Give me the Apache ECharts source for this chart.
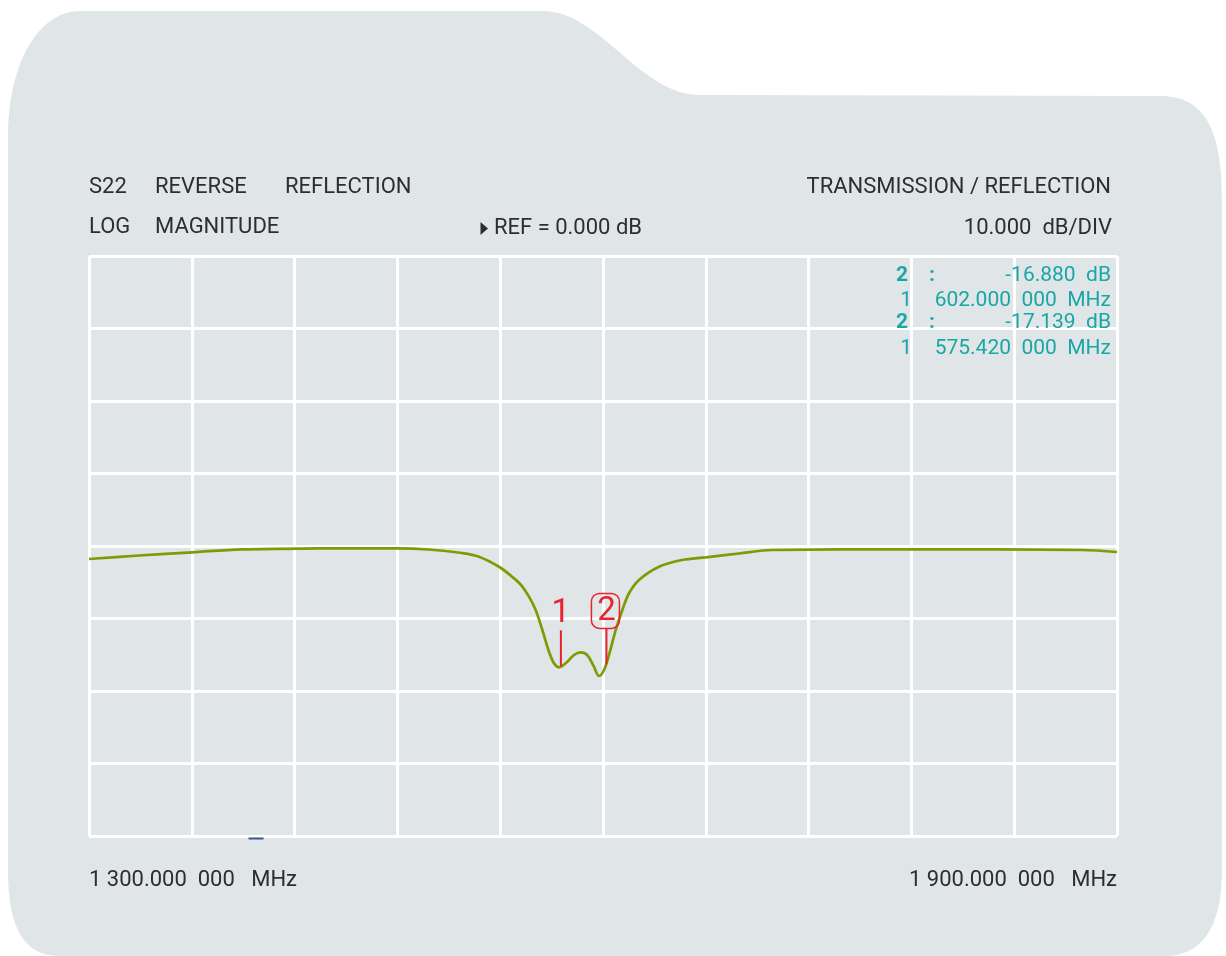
<!DOCTYPE html>
<html><head><meta charset="utf-8">
<script src="https://cdn.jsdelivr.net/npm/echarts@6/dist/echarts.min.js"></script>
<style>html,body{margin:0;padding:0;background:#fff;}#c{width:1226px;height:956px;}</style>
</head><body><div id="c"></div>
<script>
// ---- data ----
const freqMHz = [1300.0,1329.2,1360.1,1389.3,1434.2,1479.2,1498.4,1517.7,1527.6,1539.3,1546.9,1552.2,1556.8,1560.7,1564.6,1568.5,1571.4,1574.3,1578.2,1583.1,1586.9,1590.8,1594.7,1597.7,1600.6,1603.5,1607.4,1611.3,1615.2,1621.0,1632.7,1646.1,1660.1,1679.4,1698.6,1780.4,1879.6,1900.0];
const s22dB = [-1.79,-1.31,-0.87,-0.46,-0.34,-0.32,-0.48,-0.97,-1.48,-2.86,-4.23,-5.38,-6.99,-8.83,-11.59,-14.58,-16.18,-16.73,-16.18,-15.03,-14.66,-15.03,-16.65,-17.93,-17.10,-15.03,-11.59,-8.83,-6.52,-4.69,-2.86,-1.93,-1.56,-1.03,-0.55,-0.46,-0.55,-0.83];
const markerNames = ['1','2'];
const markerFreq = [1575.42, 1602.0];
const markerDb = [-17.139, -16.88];
const markerBoxed = [false, true];
const xTickLabels = ['1 300.000  000   MHz', '1 900.000  000   MHz'];
const xMin = 1300, xMax = 1900, xStep = 60;
const yMin = -40, yMax = 40, yStep = 10;
const headerLeft1 = ['S22', 'REVERSE', 'REFLECTION'];
const headerLeft2 = ['LOG', 'MAGNITUDE'];
const headerMid2 = 'REF = 0.000 dB';
const headerRight1 = 'TRANSMISSION / REFLECTION';
const headerRight2 = '10.000  dB/DIV';
const readoutIds = ['2', '2'];
const readoutDb = ['-16.880  dB', '-17.139  dB'];
const readoutFreqPrefix = ['1', '1'];
const readoutFreq = ['602.000  000  MHz', '575.420  000  MHz'];
const blueMarkFreq = 1397.5;

// ---- styles ----
const FONT = 'Roboto';
const TXT = '#2e2e2e';
const TEAL = '#19a7a5';
const RED = '#e8232d';
const BG = '#e0e5e7';

const chart = echarts.init(document.getElementById('c'), null, {renderer: 'canvas'});

const bgPath = 'M 8 140 C 8 60 40 11 80 11 L 543 11 C 600 11 640 95 700 95 L 1160 96 ' +
  'C 1205 96 1222 130 1222 200 L 1222 870 C 1222 930 1200 956 1165 956 L 60 956 ' +
  'C 25 956 8 930 8 870 Z';

function txt(text, x, y, opts) {
  return Object.assign({type: 'text', x: x, y: y, z: 5,
    style: Object.assign({text: text, fontFamily: FONT, fontSize: 22, fill: TXT, verticalAlign: 'middle', align: 'left'}, opts || {})});
}

const graphics = [
  txt(headerLeft1[0], 89, 187), txt(headerLeft1[1], 155, 187), txt(headerLeft1[2], 285, 187),
  txt(headerLeft2[0], 89, 227), txt(headerLeft2[1], 155, 227),
  {type: 'polygon', shape: {points: [[480.5, 222], [488, 228.5], [480.5, 235]]}, style: {fill: TXT}, z: 5},
  txt(headerMid2, 494, 228),
  txt(headerRight1, 1111, 187, {align: 'right'}),
  txt(headerRight2, 1112, 228, {align: 'right'})
];
const readY = [[276, 301], [323, 349]];
for (let i = 0; i < readoutDb.length; i++) {
  graphics.push(txt(readoutIds[i], 902, readY[i][0], {align: 'center', fill: TEAL, fontSize: 21, fontWeight: 'bold'}));
  graphics.push(txt(':', 932, readY[i][0], {align: 'center', fill: TEAL, fontSize: 21, fontWeight: 'bold'}));
  graphics.push(txt(readoutDb[i], 1111, readY[i][0], {align: 'right', fill: TEAL, fontSize: 21}));
  graphics.push(txt(readoutFreqPrefix[i], 912, readY[i][1], {align: 'right', fill: TEAL, fontSize: 21}));
  graphics.push(txt(readoutFreq[i], 1111, readY[i][1], {align: 'right', fill: TEAL, fontSize: 21}));
}

chart.setOption({
  animation: false,
  backgroundColor: '#ffffff',
  grid: {left: 89, right: 109, top: 256, bottom: 120, containLabel: false},
  xAxis: {
    type: 'value', min: xMin, max: xMax, interval: xStep,
    axisLine: {show: false}, axisTick: {show: false},
    splitLine: {show: true, lineStyle: {color: '#ffffff', width: 3}},
    axisLabel: {
      show: true, margin: 33, fontFamily: FONT, fontSize: 22, color: TXT,
      alignMinLabel: 'left', alignMaxLabel: 'right',
      formatter: function (v) { return v === xMin ? xTickLabels[0] : (v === xMax ? xTickLabels[1] : ''); }
    }
  },
  yAxis: {
    type: 'value', min: yMin, max: yMax, interval: yStep,
    axisLine: {show: false}, axisTick: {show: false}, axisLabel: {show: false},
    splitLine: {show: true, lineStyle: {color: '#ffffff', width: 3}}
  },
  graphic: graphics,
  series: [
    {
      type: 'custom', coordinateSystem: 'none', z: -10, zlevel: 0, silent: true,
      data: [[0]],
      renderItem: function () {
        return {type: 'path', shape: {pathData: bgPath}, style: {fill: BG}, z2: -10};
      }
    },
    {
      type: 'line', data: freqMHz.map((f, i) => [f, s22dB[i]]),
      showSymbol: false, smooth: 0.35, z: 3,
      lineStyle: {color: '#7e9b04', width: 2.7}
    },
    {
      type: 'custom', coordinateSystem: 'cartesian2d', z: 4, clip: false,
      data: markerFreq.map((f, i) => [f, markerDb[i], i]),
      renderItem: function (params, api) {
        const p = api.coord([api.value(0), api.value(1)]);
        const i = api.value(2);
        const children = [
          {type: 'line', shape: {x1: p[0], y1: p[1] - 4, x2: p[0], y2: p[1] - 40}, style: {stroke: RED, lineWidth: 2}},
          {type: 'text', style: {text: markerNames[i], x: p[0], y: p[1] - 57, align: 'center', verticalAlign: 'middle',
            fontSize: 33, fontFamily: FONT, fill: RED}}
        ];
        if (markerBoxed[i]) {
          children.push({type: 'rect', shape: {x: p[0] - 15, y: p[1] - 75, width: 28, height: 35, r: 8},
            style: {fill: 'none', stroke: RED, lineWidth: 1.5}});
        }
        return {type: 'group', children: children};
      }
    }
  ]
});

const bp = chart.convertToPixel({gridIndex: 0}, [blueMarkFreq, yMin]);
chart.setOption({graphic: graphics.concat([
  {type: 'rect', shape: {x: bp[0] - 7.5, y: bp[1] + 1.5, width: 15, height: 2}, style: {fill: '#3452a6'}, z: 5}
])});
</script></body></html>
